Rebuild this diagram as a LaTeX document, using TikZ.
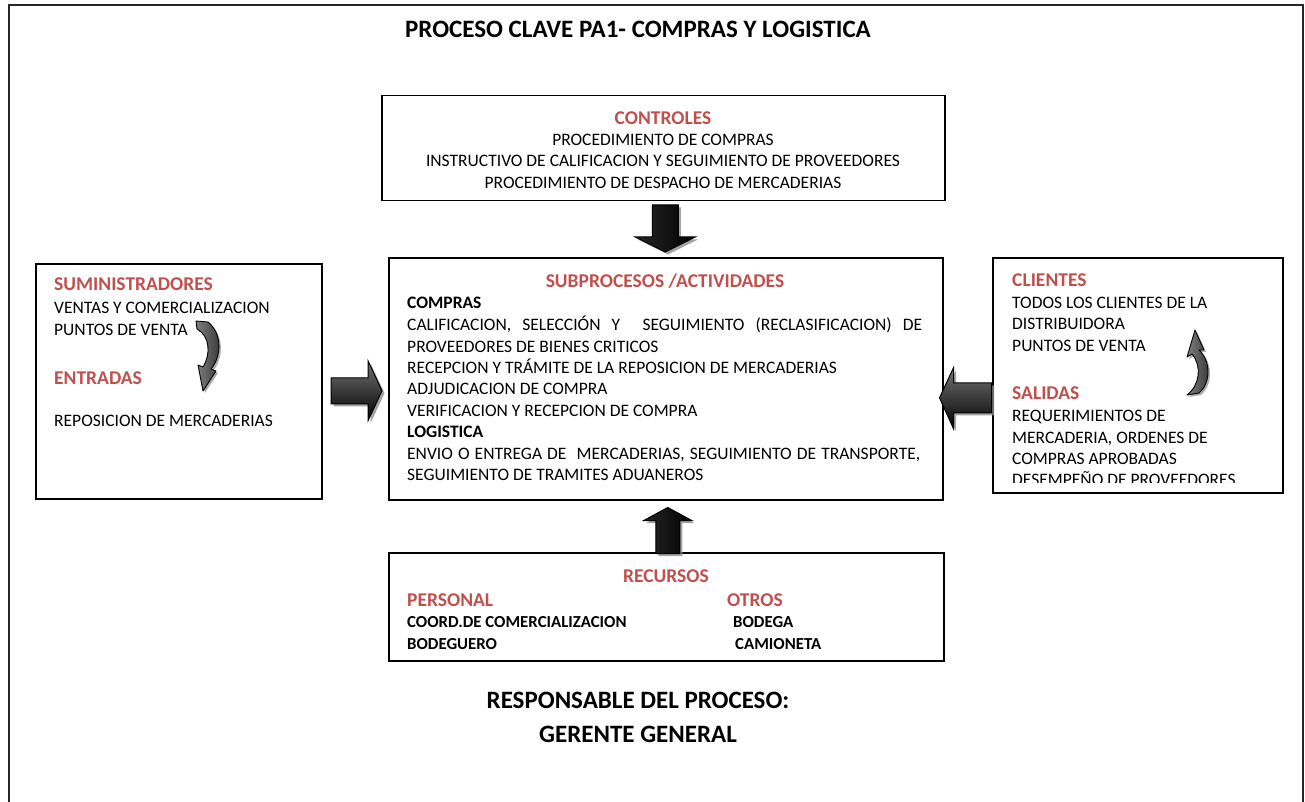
\documentclass[tikz,border=0pt]{standalone}
\usepackage{fontspec}
\setmainfont{Carlito}
\usetikzlibrary{calc,shadows}
\definecolor{hdred}{HTML}{C0504D}
\begin{document}
\begin{tikzpicture}[x=1pt,y=-1pt,
  box/.style={draw=black, line width=1.5pt, anchor=north west, inner sep=0pt},
  body/.style={inner sep=0pt, anchor=base west, font=\fontsize{17.5}{21.5}\selectfont},
  bodyc/.style={body, anchor=base},
  bodyb/.style={body, font=\fontsize{17.5}{21.5}\selectfont\bfseries},
  head/.style={inner sep=0pt, anchor=base west, text=hdred, font=\fontsize{19.5}{23}\selectfont\bfseries},
  headc/.style={head, anchor=base},
  res/.style={inner sep=0pt, anchor=base west, font=\fontsize{16.8}{20}\selectfont\bfseries},
  big/.style={inner sep=0pt, anchor=base, font=\fontsize{25}{30}\selectfont\bfseries},
  blockh/.style={draw=black, line width=1pt, line join=miter,
    top color=black!55, middle color=black!90, bottom color=black,
    drop shadow={shadow xshift=2.5pt, shadow yshift=-2.5pt, fill=black!45, opacity=0.8}},
  blockv/.style={draw=black, line width=1pt, line join=miter,
    left color=black!85, middle color=black!50, right color=black,
    drop shadow={shadow xshift=2.5pt, shadow yshift=-2.5pt, fill=black!45, opacity=0.8}},
  curl/.style={draw=black, line width=0.9pt, line join=round,
    left color=black!50, right color=black!80,
    drop shadow={shadow xshift=2pt, shadow yshift=-2pt, fill=black!40, opacity=0.8}},
  % block arrow outlines, traced from the tip
  downarr/.style={insert path={-- ++(30,-15) -- ++(-17,0) -- ++(0,-32) -- ++(-26,0) -- ++(0,32) -- ++(-17,0) -- cycle}},
  uparr/.style={insert path={-- ++(24,13) -- ++(-12,0) -- ++(0,33) -- ++(-24,0) -- ++(0,-33) -- ++(-12,0) -- cycle}},
  rightarr/.style={insert path={-- ++(-14,-30) -- ++(0,17) -- ++(-37,0) -- ++(0,26) -- ++(37,0) -- ++(0,17) -- cycle}},
  leftarr/.style={insert path={-- ++(14,-30) -- ++(0,15) -- ++(38,0) -- ++(0,30) -- ++(-38,0) -- ++(0,16) -- cycle}},
]
\useasboundingbox (0,0) rectangle (1305,802);

% outer frame, open at the bottom
\draw[line width=2.2pt, black!85] (9,802) -- (9,5) -- (1303,5) -- (1303,802);

\node[big] (title) at (638,38) {PROCESO CLAVE PA1- COMPRAS Y LOGISTICA};

% controls
\node[box, minimum width=563pt, minimum height=105pt] (ctrl) at (381,95) {};
\node[headc] (ctrlh) at (663,125) {CONTROLES};
\node[bodyc] (c1) at (663,146) {PROCEDIMIENTO DE COMPRAS};
\node[bodyc] (c2) at (663,167) {INSTRUCTIVO DE CALIFICACION Y SEGUIMIENTO DE PROVEEDORES};
\node[bodyc] (c3) at (663,189) {PROCEDIMIENTO DE DESPACHO DE MERCADERIAS};

% subprocesses
\node[box, minimum width=554pt, minimum height=242pt] (sub) at (388,257) {};
\node[headc] (subh) at (665,287) {SUBPROCESOS /ACTIVIDADES};
\node[bodyb] (s0) at (407,308) {COMPRAS};
\node[body] (s1) at (407,330) {\makebox[515pt][s]{CALIFICACION, SELECCIÓN Y \ SEGUIMIENTO (RECLASIFICACION) DE}};
\node[body] (s2) at (407,352) {PROVEEDORES DE BIENES CRITICOS};
\node[body] (s3) at (407,373) {RECEPCION Y TRÁMITE DE LA REPOSICION DE MERCADERIAS};
\node[body] (s4) at (407,394) {ADJUDICACION DE COMPRA};
\node[body] (s5) at (407,416) {VERIFICACION Y RECEPCION DE COMPRA};
\node[bodyb] (s6) at (407,437) {LOGISTICA};
\node[body] (s7) at (407,459) {\makebox[513pt][s]{ENVIO O ENTREGA DE \ MERCADERIAS, SEGUIMIENTO DE TRANSPORTE,}};
\node[body] (s8) at (407,480) {SEGUIMIENTO DE TRAMITES ADUANEROS};

% suppliers and inputs
\node[box, minimum width=286pt, minimum height=235pt] (sup) at (35,263) {};
\node[head] (suph) at (54,290) {SUMINISTRADORES};
\node[body] (p1) at (54,313.5) {VENTAS Y COMERCIALIZACION};
\node[body] (p2) at (54,335.5) {PUNTOS DE VENTA};
\node[head] (enth) at (54,384) {ENTRADAS};
\node[body] (e1) at (54,426.5) {REPOSICION DE MERCADERIAS};
\path[curl] (196,321) -- (208,322) .. controls (222,333) and (222,356) .. (211,369)
  -- (216,371) -- (203,391) -- (198,365) -- (203,367)
  .. controls (211,354) and (210,336) .. (197,329) -- cycle;

% clients and outputs
\node[box, minimum width=290pt, minimum height=235pt] (cli) at (992,257) {};
\node[head] (clih) at (1012,286) {CLIENTES};
\node[body] (k1) at (1012,308.5) {TODOS LOS CLIENTES DE LA};
\node[body] (k2) at (1012,329.5) {DISTRIBUIDORA};
\node[body] (k3) at (1012,351.5) {PUNTOS DE VENTA};
\node[head] (salh) at (1012,399) {SALIDAS};
\node[body] (o1) at (1012,421.5) {REQUERIMIENTOS DE};
\node[body] (o2) at (1012,443.5) {MERCADERIA, ORDENES DE};
\node[body] (o3) at (1012,464.5) {COMPRAS APROBADAS};
\begin{scope}
  \clip (992,470) rectangle (1282,482.5);
  \node[body] (o4) at (1012,485.5) {DESEMPEÑO DE PROVEEDORES};
\end{scope}
\path[curl] (1195,330) -- (1204,350) -- (1199,350)
  .. controls (1211,361) and (1211,383) .. (1199,393) -- (1187,395)
  .. controls (1200,385) and (1202,366) .. (1192,354) -- (1187,357) -- cycle;

% resources
\node[box, minimum width=555pt, minimum height=108pt] (rec) at (388,552) {};
\node[headc] (rech) at (666,582) {RECURSOS};
\node[head] (perh) at (407,606) {PERSONAL};
\node[head] (otrh) at (727,606) {OTROS};
\node[res] (r1) at (407,627) {COORD.DE COMERCIALIZACION};
\node[res] (r2) at (407,649) {BODEGUERO};
\node[res] (r3) at (733,627) {BODEGA};
\node[res] (r4) at (735,649) {CAMIONETA};

% block arrows between the boxes
\coordinate (dtip) at ($(sub.north)+(0,-5)$);
\coordinate (utip) at ($(sub.south)+(0,7)$);
\coordinate (rtip) at ($(sub.west)+(-6,12)$);
\coordinate (ltip) at ($(sub.east)+(-4,19)$);
\path[blockv] ($(dtip)+(-0.5,0)$) [downarr];
\path[blockv] ($(utip)+(2,0)$) [uparr];
\path[blockh] (rtip) [rightarr];
\path[blockh] (ltip) [leftarr];

% process owner
\node[big] (resp) at (638,708) {RESPONSABLE DEL PROCESO:};
\node[big] (ger) at (638,742) {GERENTE GENERAL};
\end{tikzpicture}
\end{document}
